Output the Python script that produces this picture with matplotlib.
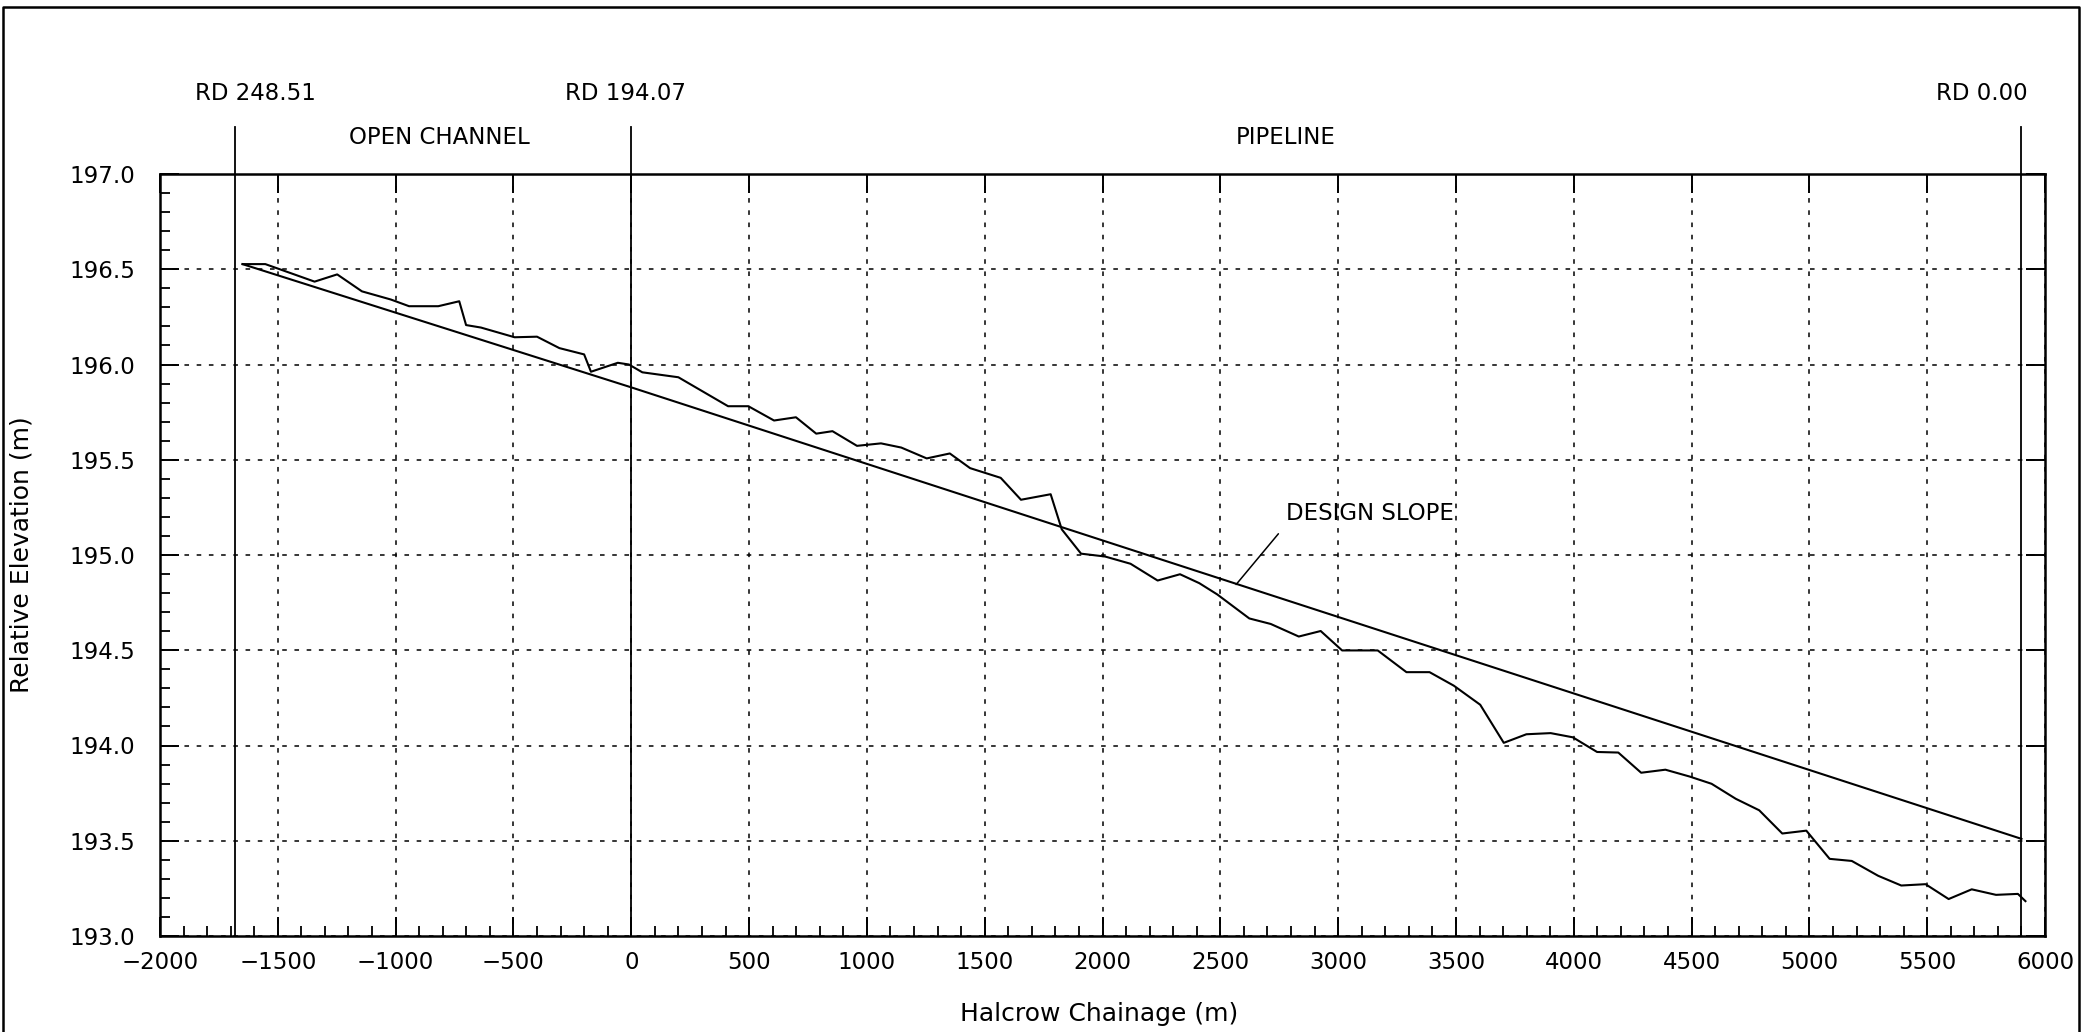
import matplotlib
matplotlib.use("Agg")
import matplotlib.pyplot as plt
from matplotlib.lines import Line2D
from matplotlib.ticker import MultipleLocator

# ---- data ----
measured_x = [-1649, -1553, -1344, -1248, -1143, -1020, -943, -819, -730, -701,
              -638, -495, -400, -305, -200, -171, -57, -10, 47, 200,
              411, 497, 606, 699, 785, 854, 958, 1060, 1146, 1254,
              1352, 1438, 1568, 1654, 1780, 1827, 1909, 2011, 2119, 2234,
              2329, 2411, 2487, 2623, 2714, 2833, 2926, 3017, 3168, 3290,
              3388, 3491, 3603, 3703, 3799, 3902, 3996, 4099, 4189, 4286,
              4389, 4492, 4585, 4688, 4787, 4885, 4987, 5086, 5180, 5292,
              5390, 5493, 5591, 5689, 5792, 5885, 5917]
measured_y = [196.527, 196.527, 196.435, 196.473, 196.384, 196.341, 196.306, 196.306, 196.332, 196.207,
              196.194, 196.143, 196.146, 196.086, 196.053, 195.962, 196.009, 196.000, 195.959, 195.933,
              195.781, 195.781, 195.706, 195.723, 195.637, 195.650, 195.573, 195.586, 195.564, 195.507,
              195.533, 195.456, 195.405, 195.290, 195.319, 195.135, 195.007, 194.992, 194.954, 194.866,
              194.899, 194.852, 194.793, 194.667, 194.638, 194.572, 194.601, 194.499, 194.499, 194.385,
              194.385, 194.314, 194.214, 194.014, 194.059, 194.065, 194.043, 193.966, 193.963, 193.857,
              193.873, 193.837, 193.799, 193.720, 193.660, 193.538, 193.553, 193.405, 193.394, 193.316,
              193.265, 193.272, 193.194, 193.245, 193.216, 193.221, 193.183]

design_x = [-1650, 0, 5900]
design_y = [196.527, 195.880, 193.510]

rd_x = [-1680, 0, 5900]
rd_labels = ["RD 248.51", "RD 194.07", "RD 0.00"]
rd_label_x = [-1593, -25, 5730]

section_labels = ["OPEN CHANNEL", "PIPELINE"]
section_x = [-816, 2779]

x_ticks = list(range(-2000, 6001, 500))
y_ticks = [193.0, 193.5, 194.0, 194.5, 195.0, 195.5, 196.0, 196.5, 197.0]

plt.rcParams['font.family'] = ['DejaVu Sans']
FS = 16.5
LFS = 18

fig = plt.figure(figsize=(20.96, 10.32), dpi=100)
ax = fig.add_axes([160/2096, 1-936/1032, 1885/2096, 762/1032])

ax.plot(design_x, design_y, color='black', lw=1.5)
ax.plot(measured_x, measured_y, color='black', lw=1.5)

ax.set_xlim(-2000, 6000)
ax.set_ylim(193.0, 197.0)
ax.set_xticks(x_ticks)
ax.set_yticks(y_ticks)
ax.set_yticklabels([f"{v:.1f}" for v in y_ticks])
ax.xaxis.set_minor_locator(MultipleLocator(100))
ax.yaxis.set_minor_locator(MultipleLocator(0.1))

ax.grid(True, which='major', color='black', lw=1.1, linestyle=(0, (3, 5)))
ax.tick_params(which='major', direction='in', length=14, width=1.4,
               top=True, right=True, labelsize=FS, colors='black')
ax.tick_params(axis='x', which='major', pad=11)
ax.tick_params(axis='y', which='major', pad=18)
ax.tick_params(which='minor', direction='in', length=7, width=1.3,
               top=False, right=False)
for s in ax.spines.values():
    s.set_linewidth(1.8)

# RD vertical lines
for xv in rd_x:
    ax.axvline(xv, ymin=0, ymax=1.062, color='black', lw=1.3, clip_on=False)

tr = ax.get_xaxis_transform()
for lx, lab in zip(rd_label_x, rd_labels):
    ax.text(lx, 1.105, lab, transform=tr, ha='center', va='center', fontsize=FS)
for lx, lab in zip(section_x, section_labels):
    ax.text(lx, 1.0485, lab, transform=tr, ha='center', va='center', fontsize=FS)

# design slope annotation
ax.annotate("DESIGN SLOPE", xy=(2567, 194.845), xytext=(2779, 195.22),
            fontsize=FS, ha='left', va='center',
            arrowprops=dict(arrowstyle='-', color='black', lw=1.1,
                            shrinkA=6, shrinkB=0, relpos=(0.0, 0.0)))

ax.set_xlabel("Halcrow Chainage (m)", fontsize=LFS)
ax.set_ylabel("Relative Elevation (m)", fontsize=LFS)
ax.xaxis.set_label_coords(939/1885, -66/762)
ax.yaxis.set_label_coords(-126/1885, 0.5)

# figure border (left, top, right)
W, H = 2096, 1032
fig.add_artist(Line2D([3/W, 3/W, 2079/W, 2079/W], [0, 1-7/H, 1-7/H, 0],
                      transform=fig.transFigure, color='black', lw=1.8))

fig.savefig("out.png", dpi=100)
